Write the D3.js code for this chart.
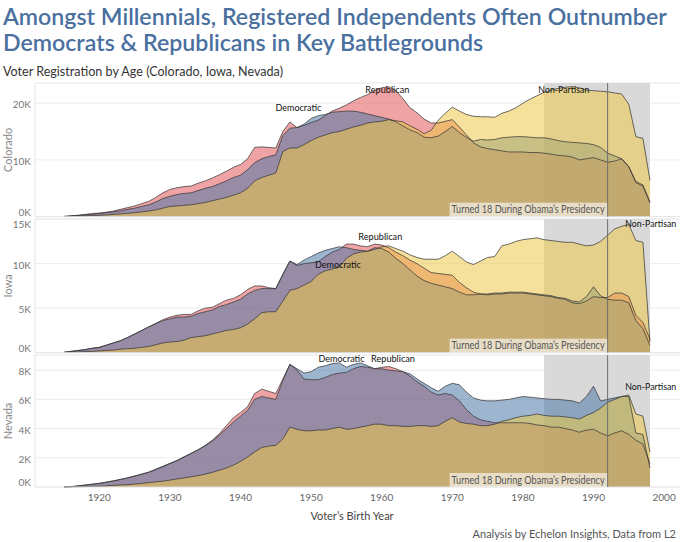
<!DOCTYPE html>
<html><head><meta charset="utf-8">
<script src="https://cdn.jsdelivr.net/npm/d3@7"></script>
<style>
body{margin:0;background:#fff}
svg{display:block}
text{font-family:Lato,"Open Sans",sans-serif}
</style>
</head><body>
<svg id="chart" width="680" height="542"></svg>
<script>
// ---------- DATA (values in thousands of registered voters) ----------
const years = d3.range(1915, 1999);

const coloradoRep = [0.05,0.15,0.25,0.4,0.55,0.65,0.8,1.0,1.3,1.6,
  1.9,2.3,2.7,3.4,4.2,4.8,5.1,5.3,5.4,5.9,
  6.3,6.8,7.4,8.0,8.7,9.2,10.2,12.2,12.3,12.2,
  12.1,15.0,16.7,15.7,16.1,16.6,17.0,17.8,18.6,19.1,
  19.7,20.4,21.0,21.5,22.2,22.7,22.9,22.2,20.8,19.2,
  18.3,17.2,16.5,16.5,16.8,17.1,15.8,14.4,13.0,12.3,
  12.0,11.8,11.6,11.4,11.4,11.4,11.3,11.3,11.2,11.0,
  10.8,10.7,10.5,10.0,10.2,10.4,10.0,9.6,9.8,10.2,
  8.8,6.0,5.4,2.4];
const coloradoDem = [0.05,0.15,0.22,0.35,0.45,0.55,0.7,0.85,1.05,1.3,
  1.5,1.8,2.1,2.6,3.2,3.6,3.9,4.1,4.2,4.6,
  5.0,5.3,5.8,6.3,6.9,7.3,8.3,9.5,10.2,10.6,
  10.9,14.3,15.6,15.7,16.3,17.3,17.8,18.0,18.4,18.5,
  18.6,18.6,18.4,18.1,17.8,17.5,17.2,16.7,16.0,15.3,
  14.8,14.0,13.9,14.2,15.0,15.9,14.8,14.0,13.3,13.6,
  13.5,13.6,13.9,14.0,14.1,14.1,14.0,13.9,13.9,13.7,
  13.4,13.2,13.1,13.0,12.9,12.7,12.2,11.2,10.7,10.2,
  8.8,6.2,5.6,2.6];
const coloradoNP = [0.02,0.05,0.1,0.15,0.2,0.25,0.3,0.4,0.5,0.6,
  0.7,0.85,1.0,1.2,1.5,1.8,1.9,2.0,2.1,2.3,
  2.5,2.8,3.1,3.4,3.8,4.2,5.0,6.3,6.9,7.3,
  7.7,11.5,12.1,12.1,12.7,13.4,14.0,14.4,14.8,15.0,
  15.4,15.8,16.1,16.5,16.7,16.8,17.1,16.9,16.7,16.0,
  15.4,14.6,15.2,17.0,18.2,19.3,18.6,18.0,17.7,17.6,
  17.6,17.5,18.2,18.6,19.2,20.0,20.7,21.3,21.9,22.3,
  22.6,22.8,22.9,22.7,22.3,22.2,22.1,22.0,21.8,21.6,
  19.8,14.1,13.8,6.4];

const iowaRep = [0.05,0.15,0.25,0.35,0.5,0.6,0.85,1.1,1.35,1.7,
  2.1,2.5,2.9,3.3,3.7,4.0,4.2,4.3,4.3,4.7,
  5.0,5.1,5.5,5.9,6.1,6.5,7.1,7.5,7.5,7.3,
  7.2,8.8,10.3,9.8,10.0,10.1,10.2,10.8,11.3,11.6,
  12.2,12.2,12.0,11.9,12.2,12.1,11.8,11.3,10.9,10.4,
  10.0,9.5,9.0,8.9,8.8,8.7,7.9,7.3,6.8,6.6,
  6.5,6.6,6.6,6.7,6.7,6.7,6.6,6.5,6.4,6.3,
  6.1,6.0,5.6,5.5,5.8,6.3,6.2,6.2,6.7,6.7,
  6.3,4.2,3.4,1.5];
const iowaDem = [0.05,0.15,0.25,0.35,0.5,0.6,0.85,1.1,1.35,1.7,
  2.1,2.5,2.9,3.25,3.6,3.8,4.0,4.0,4.1,4.4,
  4.6,4.8,5.2,5.4,5.7,6.0,6.6,7.0,7.2,7.2,
  7.2,8.8,10.3,9.9,10.4,10.8,11.2,11.5,11.7,11.9,
  11.8,11.6,11.5,11.4,11.8,11.7,11.3,10.6,10.0,9.3,
  8.6,8.1,7.8,7.6,7.4,7.2,6.8,6.5,6.5,6.6,
  6.6,6.7,6.7,6.8,6.8,6.8,6.7,6.6,6.5,6.4,
  6.2,6.1,5.8,5.7,6.3,7.4,6.4,6.0,5.9,5.9,
  5.6,3.6,2.7,0.8];
const iowaNP = [0.02,0.05,0.08,0.12,0.15,0.2,0.25,0.3,0.4,0.45,
  0.5,0.6,0.7,0.9,1.1,1.2,1.25,1.4,1.7,1.8,
  1.9,2.1,2.3,2.5,2.6,2.8,3.2,3.8,4.5,4.6,
  4.6,5.8,7.0,7.2,7.6,8.0,8.8,9.2,9.4,9.6,
  10.6,11.1,11.3,11.4,11.6,11.9,12.0,11.7,11.4,11.0,
  10.7,10.5,10.5,10.5,10.9,11.4,10.8,10.2,9.9,10.3,
  10.7,10.8,12.0,12.2,12.5,12.7,12.8,12.9,12.7,12.6,
  12.5,12.4,12.4,12.2,12.0,12.1,12.5,13.2,13.9,14.2,
  14.4,12.6,12.4,1.2];

const nevadaRep = [0,0.02,0.08,0.13,0.19,0.25,0.33,0.42,0.52,0.62,
  0.75,0.88,1.0,1.2,1.38,1.6,1.8,2.05,2.3,2.55,
  2.85,3.2,3.65,4.2,4.75,5.1,5.5,6.4,6.7,6.55,
  6.4,7.4,8.4,8.0,7.4,7.35,7.35,7.5,7.7,7.8,
  7.85,8.1,8.25,8.2,8.1,8.2,8.25,8.1,7.9,7.6,
  7.2,6.9,6.5,6.3,6.4,6.3,5.9,5.3,4.85,4.6,
  4.5,4.4,4.4,4.4,4.4,4.4,4.35,4.25,4.2,4.1,
  4.1,4.0,3.9,3.75,3.9,3.95,3.7,3.5,3.7,3.85,
  3.6,3.2,2.95,1.6];
const nevadaDem = [0,0.02,0.08,0.13,0.19,0.25,0.33,0.42,0.52,0.62,
  0.75,0.88,1.02,1.22,1.42,1.62,1.82,2.07,2.3,2.55,
  2.82,3.15,3.55,4.0,4.45,4.85,5.25,6.0,6.2,6.1,
  6.0,7.3,8.4,8.1,7.8,7.9,8.2,8.3,8.45,8.5,
  8.2,8.4,8.5,8.3,8.1,8.1,8.0,7.95,7.9,7.75,
  7.4,7.1,6.8,6.55,6.9,7.1,7.0,6.5,6.1,5.95,
  5.9,5.9,5.95,6.0,6.1,6.2,6.15,6.1,6.05,6.0,
  6.0,5.95,5.9,5.75,6.2,6.9,5.9,6.0,6.1,6.2,
  6.2,3.7,3.6,1.3];
const nevadaNP = [0,0.005,0.02,0.03,0.04,0.05,0.08,0.11,0.14,0.16,
  0.2,0.25,0.3,0.35,0.4,0.47,0.55,0.62,0.7,0.78,
  0.88,1.0,1.15,1.3,1.5,1.75,2.05,2.4,2.7,2.8,
  2.85,3.3,4.1,3.95,3.85,3.85,3.9,3.9,4.0,4.1,
  3.95,4.0,4.1,4.2,4.3,4.3,4.2,4.2,4.15,4.15,
  4.2,4.2,4.15,4.2,4.5,4.75,4.45,4.35,4.3,4.2,
  4.2,4.3,4.5,4.6,4.75,4.85,4.9,5.0,4.9,4.85,
  4.85,4.8,4.75,4.65,4.9,5.1,5.4,5.8,6.0,6.2,
  6.3,5.0,4.85,2.4];

const states = ["Colorado", "Iowa", "Nevada"];
const seriesNames = ["Republican", "Democratic", "Non-Partisan"];
const coloradoTicks = [0, 10, 20];
const iowaTicks = [0, 5, 10, 15];
const nevadaTicks = [0, 2, 4, 6, 8];
const xTickYears = [1920, 1930, 1940, 1950, 1960, 1970, 1980, 1990, 2000];
const millennialBand = [1983, 1998];
const obamaYear = 1992;
const obamaLabel = "Turned 18 During Obama\u2019s Presidency";
const titleLines = ["Amongst Millennials, Registered Independents Often Outnumber",
  "Democrats & Republicans in Key Battlegrounds"];
// annotation anchors: [state, text, year, value(K), anchor]
const annotations = [
  ["Colorado", "Democratic", 1948.2, 19.3, "middle"],
  ["Colorado", "Republican", 1960.8, 22.5, "middle"],
  ["Colorado", "Non-Partisan", 1985.8, 22.5, "middle"],
  ["Iowa", "Republican", 1959.8, 13.1, "middle"],
  ["Iowa", "Democratic", 1953.8, 10.0, "middle"],
  ["Iowa", "Non-Partisan", 1994.5, 14.5, "start"],
  ["Nevada", "Democratic", 1954.3, 8.85, "middle"],
  ["Nevada", "Republican", 1961.6, 8.85, "middle"],
  ["Nevada", "Non-Partisan", 1994.5, 6.9, "start"]
];

// ---------- BUILD ----------
const stateData = {
  Colorado: {Republican: coloradoRep, Democratic: coloradoDem, "Non-Partisan": coloradoNP, ticks: coloradoTicks},
  Iowa: {Republican: iowaRep, Democratic: iowaDem, "Non-Partisan": iowaNP, ticks: iowaTicks},
  Nevada: {Republican: nevadaRep, Democratic: nevadaDem, "Non-Partisan": nevadaNP, ticks: nevadaTicks}
};
const panelBox = {
  Colorado: {top: 83, bottom: 216.7, max: 23.55},
  Iowa: {top: 219, bottom: 352.7, max: 15.02},
  Nevada: {top: 355, bottom: 487, max: 9.04}
};
const colors = {Republican: "#e15759", Democratic: "#4e79a7", "Non-Partisan": "#edc948"};
const labelWidths = {Democratic: 46, Republican: 44, "Non-Partisan": 51};

const svg = d3.select("#chart");
const left = 35, right = 680;
const x = d3.scaleLinear().domain([1920, 1998]).range([99.3, 99.3 + 78 * 7.06]);

function fit(sel, w) { sel.attr("textLength", w).attr("lengthAdjust", "spacingAndGlyphs"); }

// Title: font size chosen so that line 1 measures 664px naturally
const title = svg.append("g").attr("fill", "#4a70a0").attr("font-weight", 600);
const t1 = title.append("text").attr("x", 3).attr("y", 25).attr("font-size", 24).text(titleLines[0]);
const natural = t1.node().getComputedTextLength();
const titleSize = Math.min(26, 24 * 664 / natural);
t1.attr("font-size", titleSize);
title.append("text").attr("x", 3).attr("y", 51).attr("font-size", titleSize).text(titleLines[1]);
svg.append("text").attr("x", 3).attr("y", 76).attr("font-size", 14).attr("fill", "#333")
  .text("Voter Registration by Age (Colorado, Iowa, Nevada)").call(fit, 280);

states.forEach(st => {
  const pb = panelBox[st];
  const sd = stateData[st];
  const y = d3.scaleLinear().domain([0, pb.max]).range([pb.bottom, pb.top]);
  const g = svg.append("g");

  g.append("line").attr("x1", left).attr("x2", right).attr("y1", pb.top).attr("y2", pb.top)
    .attr("stroke", "#e6e6e6");
  g.selectAll(".grid").data(sd.ticks.filter(t => t > 0)).join("line")
    .attr("x1", left).attr("x2", right).attr("y1", d => y(d)).attr("y2", d => y(d))
    .attr("stroke", "#ececec");
  g.append("rect").attr("x", x(millennialBand[0])).attr("width", x(millennialBand[1]) - x(millennialBand[0]))
    .attr("y", pb.top).attr("height", pb.bottom - pb.top).attr("fill", "#d9d9d9");

  seriesNames.forEach(s => {
    const vals = sd[s];
    const pts = years.map((yr, i) => ({yr, v: vals[i]}));
    const area = d3.area().x(d => x(d.yr)).y0(y(0)).y1(d => y(d.v));
    g.append("path").datum(pts).attr("d", area).attr("fill", colors[s]).attr("fill-opacity", 0.55);
  });
  seriesNames.forEach(s => {
    const vals = sd[s];
    const pts = years.map((yr, i) => ({yr, v: vals[i]}));
    const line = d3.line().x(d => x(d.yr)).y(d => y(d.v));
    g.append("path").datum(pts).attr("d", line).attr("fill", "none")
      .attr("stroke", "#333").attr("stroke-width", 0.85).attr("stroke-opacity", 0.85);
  });

  g.append("line").attr("x1", left).attr("x2", right).attr("y1", pb.bottom).attr("y2", pb.bottom)
    .attr("stroke", "#e0e0e0");
  g.append("line").attr("x1", left).attr("x2", left).attr("y1", pb.top).attr("y2", pb.bottom)
    .attr("stroke", "#e6e6e6");

  g.append("line").attr("x1", x(obamaYear)).attr("x2", x(obamaYear)).attr("y1", pb.top).attr("y2", pb.bottom)
    .attr("stroke", "#6e6e6e").attr("stroke-width", 1);
  const lab = g.append("g");
  const lt = lab.append("text").attr("x", x(obamaYear) - 3).attr("y", pb.bottom - 3.5)
    .attr("text-anchor", "end").attr("font-size", 11).attr("fill", "#555").text(obamaLabel);
  lt.call(fit, 153);
  const bb = lt.node().getBBox();
  lab.insert("rect", "text").attr("x", bb.x - 2).attr("y", pb.bottom - 14)
    .attr("width", x(obamaYear) - (bb.x - 2) - 0.5).attr("height", 14)
    .attr("fill", "#fff").attr("fill-opacity", 0.6);

  g.selectAll(".yt").data(sd.ticks).join("text")
    .attr("x", 31).attr("text-anchor", "end").attr("font-size", 10).attr("fill", "#777")
    .attr("dominant-baseline", "central")
    .attr("y", d => Math.max(pb.top + 4.5, Math.min(pb.bottom - 5, y(d) + 1)))
    .text(d => d + "K");
  g.append("text").attr("transform", `translate(12,${(pb.top + pb.bottom) / 2}) rotate(-90)`)
    .attr("text-anchor", "middle").attr("font-size", 11).attr("fill", "#888").text(st);

  annotations.filter(a => a[0] === st).forEach(a => {
    g.append("text").attr("x", x(a[2])).attr("y", y(a[3])).attr("text-anchor", a[4])
      .attr("dominant-baseline", "central").attr("font-size", a[4] === "start" ? 9.5 : 10).attr("fill", "#111")
      .text(a[1]).call(fit, labelWidths[a[1]]);
  });
});

svg.selectAll(".xt").data(xTickYears).join("text")
  .attr("x", d => x(d)).attr("y", 501).attr("text-anchor", "middle")
  .attr("font-size", 10).attr("fill", "#666").text(d => d);
svg.append("text").attr("x", 352).attr("y", 520).attr("text-anchor", "middle")
  .attr("font-size", 11).attr("fill", "#444").text("Voter\u2019s Birth Year");
svg.append("text").attr("x", 676).attr("y", 538).attr("text-anchor", "end")
  .attr("font-size", 11).attr("fill", "#555").text("Analysis by Echelon Insights, Data from L2");
</script>
</body></html>
